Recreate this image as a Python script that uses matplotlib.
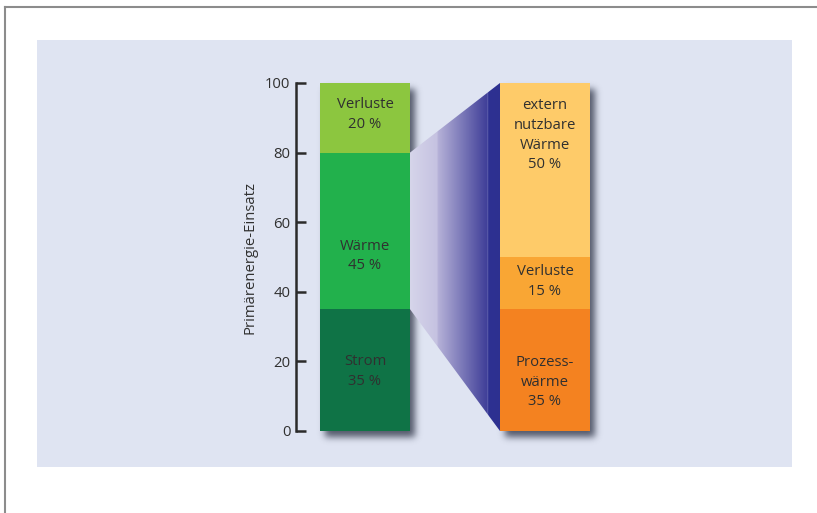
import numpy as np
import matplotlib
matplotlib.use('Agg')
import matplotlib.pyplot as plt
from matplotlib.patches import Rectangle, Polygon
from matplotlib.colors import to_rgb
from matplotlib.lines import Line2D

plt.rcParams['font.family'] = ['Open Sans', 'DejaVu Sans']

# ---------------- data ----------------
bar_names = ['Primärenergie', 'Nutzung']
input_labels = ['Strom', 'Wärme', 'Verluste']
input_values = [35, 45, 20]
output_labels = ['Prozess-\nwärme', 'Verluste', 'extern\nnutzbare\nWärme']
output_values = [35, 15, 50]
yticks = [0, 20, 40, 60, 80, 100]
ylabel = 'Primärenergie-Einsatz'

# ---------------- style ----------------
input_colors = ['#0f7346', '#22b14c', '#8cc63f']
output_colors = ['#f48220', '#f9a634', '#fecb69']
input_label_pos = [0.49, 0.34, 0.55]     # fraction of segment height
output_label_pos = [0.40, 0.53, 0.70]
text_color = '#303030'
panel_color = '#dfe4f2'
W, H = 817, 513
bar_w = 0.5
fs = 10.7
fw = 'normal'

fig = plt.figure(figsize=(W / 100, H / 100), dpi=100)
fig.patch.set_facecolor('white')

# panel + frame lines
fig.add_artist(Rectangle((37 / W, (H - 467) / H), (792 - 37) / W, (467 - 40) / H,
                         transform=fig.transFigure, facecolor=panel_color,
                         edgecolor='none', zorder=-3))
fig.add_artist(Line2D([5 / W, 1], [1 - 7 / H, 1 - 7 / H], transform=fig.transFigure,
                      color='#8c8c8c', lw=1.5, zorder=-2))
fig.add_artist(Line2D([5 / W, 5 / W], [0, 1 - 7 / H], transform=fig.transFigure,
                      color='#8c8c8c', lw=1.5, zorder=-2))

ax = fig.add_axes([296 / W, (H - 431) / H, (608 - 296) / W, 348 / H])
ax.patch.set_visible(False)

xpos = np.arange(len(bar_names))

# bars
cum = 0
in_bottoms = []
for v, c in zip(input_values, input_colors):
    ax.bar(xpos[0], v, bottom=cum, width=bar_w, color=c, zorder=3, linewidth=0)
    in_bottoms.append(cum)
    cum += v
cum = 0
out_bottoms = []
for v, c in zip(output_values, output_colors):
    ax.bar(xpos[1], v, bottom=cum, width=bar_w, color=c, zorder=3, linewidth=0)
    out_bottoms.append(cum)
    cum += v

# labels
for lab, v, b, f in zip(input_labels, input_values, in_bottoms, input_label_pos):
    ax.text(xpos[0], b + f * v, f'{lab}\n{v} %', ha='center', va='center',
            fontsize=fs, fontweight=fw, color=text_color, linespacing=1.42, zorder=5)
for lab, v, b, f in zip(output_labels, output_values, out_bottoms, output_label_pos):
    ax.text(xpos[1], b + f * v, f'{lab}\n{v} %', ha='center', va='center',
            fontsize=fs, fontweight=fw, color=text_color, linespacing=1.42, zorder=5)

# connecting gradient trapezoid (Wärme segment -> whole output bar)
xl = xpos[0] + bar_w / 2
xr = xpos[1] - bar_w / 2
total_out = sum(output_values)
poly = Polygon([(xl, in_bottoms[1]), (xl, in_bottoms[1] + input_values[1]),
                (xr, total_out), (xr, 0)], closed=True, facecolor='none',
               edgecolor='none', transform=ax.transData)
ax.add_patch(poly)
n = 400
t = np.linspace(0, 1, n)
stops = [(0.0, '#d6d5ea'), (0.30, '#c5c2e1'), (0.305, '#b6b2d8'),
         (0.85, '#3f3e98'), (0.853, '#8080c0'), (0.862, '#2e3192'), (1.0, '#2d3090')]
sx = [s[0] for s in stops]
cols = np.array([to_rgb(s[1]) for s in stops])
grad = np.stack([np.interp(t, sx, cols[:, i]) for i in range(3)], axis=-1)[None, :, :]
im = ax.imshow(grad, extent=[xl, xr, 0, total_out], aspect='auto', zorder=2,
               interpolation='bilinear')
im.set_clip_path(poly)

ax.set_xlim(-0.3833, 1.35)
ax.set_ylim(0, 100)

# axis styling
for s in ['top', 'right', 'bottom']:
    ax.spines[s].set_visible(False)
ax.spines['left'].set_linewidth(1.8)
ax.spines['left'].set_color('#2a2a2a')
ax.set_xticks([])
ax.set_yticks(yticks)
ax.tick_params(axis='y', direction='in', length=7, width=1.8, color='#2a2a2a',
               pad=4, labelsize=fs, labelcolor=text_color)
ax.set_ylabel(ylabel, fontsize=fs, fontweight=fw, color=text_color, va='center')
ax.yaxis.set_label_coords(-0.147, 0.5)

# drop shadows (computed through the axes transform)
def blur(a, s):
    r = int(3 * s)
    k = np.exp(-0.5 * (np.arange(-r, r + 1) / s) ** 2)
    k /= k.sum()
    a = np.apply_along_axis(lambda m: np.convolve(m, k, mode='same'), 0, a)
    a = np.apply_along_axis(lambda m: np.convolve(m, k, mode='same'), 1, a)
    return a

mask = np.zeros((H, W))
for xp, tot in zip(xpos, [sum(input_values), sum(output_values)]):
    (x0, y0) = ax.transData.transform((xp - bar_w / 2, 0))
    (x1, y1) = ax.transData.transform((xp + bar_w / 2, tot))
    dx, dy = 5, 6
    r0 = int(round(H - y1)) + dy
    r1 = int(round(H - y0)) + dy
    c0 = int(round(x0)) + dx
    c1 = int(round(x1)) + dx
    mask[r0:r1, c0:c1] = 1.0
mask = blur(mask, 3.5)
shadow = np.zeros((H, W, 4))
shadow[..., :3] = to_rgb('#3a4052')
shadow[..., 3] = np.clip(mask * 0.85, 0, 1)
fig.figimage(shadow, xo=0, yo=0, origin='upper', zorder=-1)

fig.savefig('out.png', dpi=100)
